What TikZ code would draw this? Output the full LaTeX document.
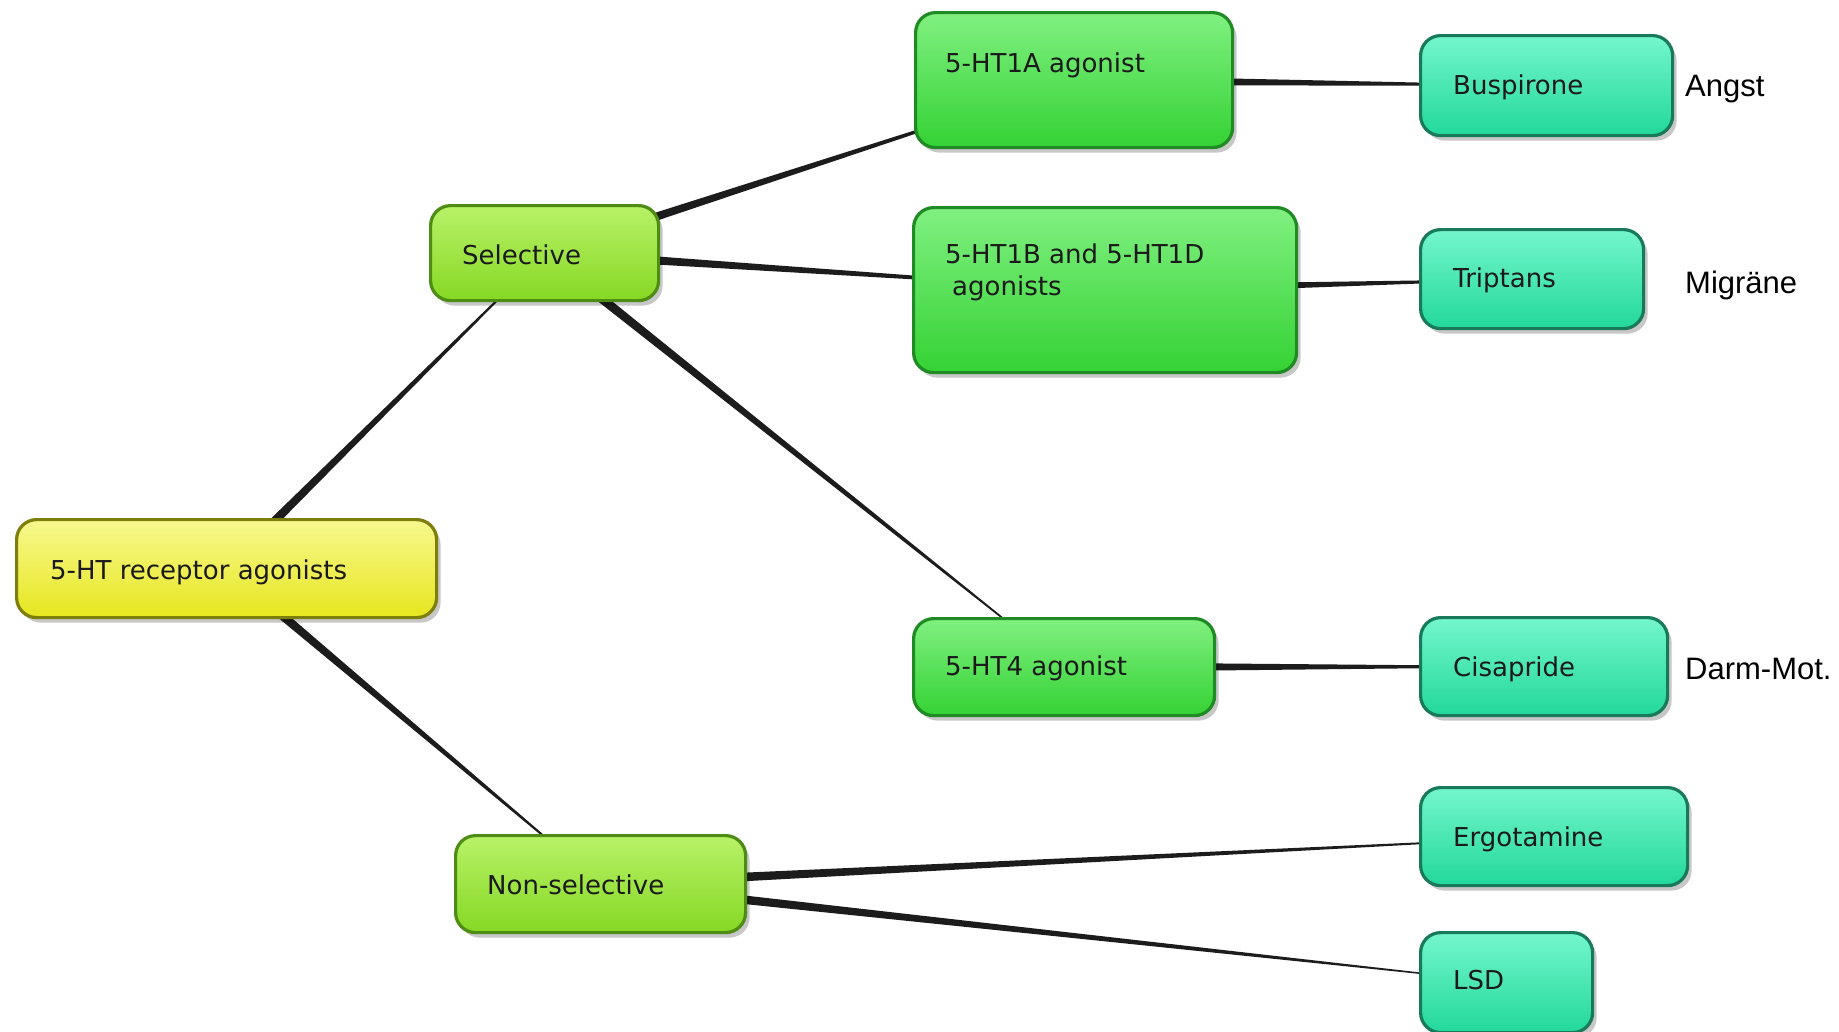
\documentclass[tikz,border=0pt]{standalone}
\usepackage{fontspec}
\newfontfamily\boxfont{DejaVu Sans}
\newfontfamily\notefont{Liberation Sans}
\usetikzlibrary{calc,shadows}
\pgfdeclarelayer{background}
\pgfsetlayers{background,main}
\definecolor{rootdraw}{HTML}{7E7E0C}
\definecolor{roottop}{HTML}{F8F890}
\definecolor{rootbot}{HTML}{E6E61E}
\definecolor{seldraw}{HTML}{4E8C16}
\definecolor{seltop}{HTML}{B8F268}
\definecolor{selbot}{HTML}{86D824}
\definecolor{middraw}{HTML}{208A24}
\definecolor{midtop}{HTML}{80F080}
\definecolor{midbot}{HTML}{34D234}
\definecolor{leafdraw}{HTML}{187A5A}
\definecolor{leaftop}{HTML}{74F6CC}
\definecolor{leafbot}{HTML}{22D89A}
\definecolor{boxtext}{HTML}{1A1A1A}
\definecolor{linecol}{HTML}{1C1C1C}
\newcommand{\taperline}[4]{%
  \fill[linecol] ($(#1)!#3!90:(#2)$) -- ($(#2)!#4!-90:(#1)$) -- ($(#2)!#4!90:(#1)$) -- ($(#1)!#3!-90:(#2)$) -- cycle;}
\begin{document}
\begin{tikzpicture}[x=1pt,y=-1pt,
  box/.style={draw, line width=3.2pt, rounded corners=20pt, anchor=north west, inner sep=0pt,
    drop shadow={shadow xshift=4pt, shadow yshift=-5pt, opacity=0.22, fill=black}},
  rootbox/.style={box, draw=rootdraw, top color=roottop, bottom color=rootbot},
  selbox/.style={box, draw=seldraw, top color=seltop, bottom color=selbot},
  midbox/.style={box, draw=middraw, top color=midtop, bottom color=midbot},
  leafbox/.style={box, draw=leafdraw, top color=leaftop, bottom color=leafbot},
  txt/.style={font=\boxfont\fontsize{26}{30}\selectfont, text=boxtext, inner sep=0pt, anchor=base west},
  note/.style={font=\notefont\fontsize{31}{36}\selectfont, text=black, inner sep=0pt, anchor=base west}]
\useasboundingbox (0,0) rectangle (1839,1031);

% boxes
\node[rootbox, minimum width=420pt, minimum height=98pt] (root) at (15,518) {};
\node[selbox, minimum width=228pt, minimum height=95pt] (sel) at (429,204) {};
\node[selbox, minimum width=290pt, minimum height=97pt] (nonsel) at (454,834) {};
\node[midbox, minimum width=317pt, minimum height=135pt] (ha) at (914,11) {};
\node[midbox, minimum width=383pt, minimum height=165pt] (hb) at (912,206) {};
\node[midbox, minimum width=301pt, minimum height=97pt] (hf) at (912,617) {};
\node[leafbox, minimum width=252pt, minimum height=100pt] (busp) at (1419,34) {};
\node[leafbox, minimum width=223pt, minimum height=99pt] (trip) at (1419,228) {};
\node[leafbox, minimum width=247pt, minimum height=98pt] (cisa) at (1419,616) {};
\node[leafbox, minimum width=267pt, minimum height=98pt] (ergo) at (1419,786) {};
\node[leafbox, minimum width=172pt, minimum height=100pt] (lsd) at (1419,931) {};

% texts
\node[txt] (troot) at (50,579.5) {5-HT receptor agonists};
\node[txt] (tsel) at (462,264.5) {Selective};
\node[txt] (tnonsel) at (487,894.5) {Non-selective};
\node[txt] (tha) at (945,72.5) {5-HT1A agonist};
\node[txt] (thb1) at (945,263.5) {5-HT1B and 5-HT1D};
\node[txt] (thb2) at (952,295.5) {agonists};
\node[txt] (thf) at (945,675.5) {5-HT4 agonist};
\node[txt] (tbusp) at (1453,94.5) {Buspirone};
\node[txt] (ttrip) at (1453,287.5) {Triptans};
\node[txt] (tcisa) at (1453,676.5) {Cisapride};
\node[txt] (tergo) at (1453,846.5) {Ergotamine};
\node[txt] (tlsd) at (1453,989.5) {LSD};

% notes
\node[note] (angst) at (1685,96) {Angst};
\node[note] (migr) at (1685,293) {Migräne};
\node[note] (darm) at (1685,679) {Darm-Mot.};

% connectors (center to center, beneath the boxes)
\begin{pgfonlayer}{background}
\fill[white] (0,0) rectangle (1839,1031);
\taperline{root}{sel}{5pt}{0.3pt}
\taperline{root}{nonsel}{5pt}{0.3pt}
\taperline{sel}{ha}{5pt}{0.3pt}
\taperline{sel}{hb}{5pt}{0.3pt}
\taperline{sel}{hf}{5pt}{0.3pt}
\taperline{ha}{busp}{5pt}{0.3pt}
\taperline{hb}{trip}{5pt}{0.3pt}
\taperline{hf}{cisa}{5pt}{0.3pt}
\taperline{nonsel}{ergo}{5pt}{0.3pt}
\taperline{nonsel}{lsd}{5pt}{0.3pt}
\end{pgfonlayer}
\end{tikzpicture}
\end{document}
